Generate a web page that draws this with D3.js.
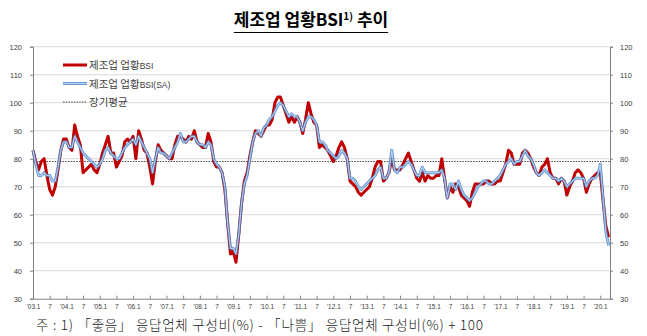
<!DOCTYPE html>
<html>
<head>
<meta charset="utf-8">
<script src="https://cdn.jsdelivr.net/npm/d3@7"></script>
<style>
  html, body { margin: 0; padding: 0; background: #fff; }
  svg { display: block; }
</style>
</head>
<body>
<svg id="chart" width="647" height="336"></svg>
<script>
// ---------------- DATA ----------------
const startYear = 2003;               // first month: 2003.1
// 제조업 업황BSI (original), monthly, 2003.1 – 2020.4
const bsi = [
  83, 79, 76, 79, 80, 74, 69, 67, 70, 76, 83, 87,   // 2003
  87, 84, 83, 92, 88, 85, 75, 76, 77, 78, 76, 75,   // 2004
  78, 82, 85, 88, 82, 82, 77, 79, 81, 86, 87, 86,   // 2005
  88, 80, 90, 87, 83, 82, 77, 71, 79, 85, 83, 82,   // 2006
  81, 80, 80, 85, 88, 88, 87, 86, 88, 87, 90, 86,   // 2007
  85, 84, 84, 89, 86, 79, 77, 77, 75, 69, 57, 46,   // 2008
  47, 43, 53, 64, 72, 75, 81, 86, 90, 89, 88, 90,   // 2009
  92, 92, 94, 100, 102, 102, 99, 96, 93, 95, 93, 95, // 2010
  93, 89, 94, 100, 96, 93, 92, 84, 85, 84, 83, 81,  // 2011
  79, 81, 84, 86, 84, 80, 72, 71, 70, 68, 67, 68,   // 2012
  69, 70, 73, 77, 79, 79, 72, 73, 75, 80, 76, 76,   // 2013
  76, 78, 80, 82, 79, 76, 73, 72, 75, 72, 74, 73,   // 2014
  73, 74, 74, 80, 73, 66, 70, 68, 71, 70, 67, 66,   // 2015
  65, 63, 68, 71, 71, 71, 71, 72, 72, 71, 71, 72,   // 2016
  72, 75, 78, 83, 82, 78, 78, 78, 82, 83, 82, 80,   // 2017
  77, 75, 74, 77, 78, 80, 75, 73, 73, 71, 73, 72,   // 2018
  67, 70, 72, 75, 76, 75, 73, 68, 71, 73, 74, 75,   // 2019
  75, 65, 56, 52                                    // 2020
];
// 제조업 업황BSI(SA), seasonally adjusted
const bsiSA = [
  83, 78, 74, 74, 75, 74, 74, 72, 72, 77, 83, 86,   // 2003
  86, 84, 84, 88, 86, 84, 82, 81, 80, 79, 78, 77,   // 2004
  78, 80, 83, 84, 82, 81, 80, 80, 82, 84, 85, 86,   // 2005
  87, 85, 88, 86, 84, 82, 80, 75, 80, 84, 82, 82,   // 2006
  81, 80, 82, 84, 86, 89, 86, 86, 87, 88, 88, 86,   // 2007
  85, 85, 84, 86, 85, 80, 78, 77, 75, 70, 57, 48,   // 2008
  48, 46, 53, 64, 71, 74, 80, 86, 89, 90, 88, 91,   // 2009
  92, 94, 95, 97, 99, 100, 99, 97, 95, 96, 95, 95,  // 2010
  93, 90, 93, 95, 95, 94, 92, 86, 86, 85, 83, 82,   // 2011
  81, 80, 81, 83, 82, 80, 73, 73, 72, 70, 69, 70,   // 2012
  71, 72, 73, 74, 76, 77, 73, 73, 75, 83, 76, 75,   // 2013
  77, 77, 78, 79, 78, 76, 74, 74, 77, 75, 75, 75,   // 2014
  75, 75, 75, 76, 73, 66, 71, 71, 69, 72, 69, 67,   // 2015
  66, 65, 66, 68, 70, 71, 72, 72, 71, 71, 72, 73,   // 2016
  74, 76, 78, 79, 80, 78, 79, 79, 81, 83, 81, 80,   // 2017
  78, 75, 74, 75, 76, 75, 74, 73, 73, 72, 73, 72,   // 2018
  70, 71, 72, 73, 73, 73, 73, 70, 72, 73, 73, 74,   // 2019
  78, 66, 54, 49                                    // 2020
];
const longTermAvg = 79;               // 장기평균
const yTicks = [30, 40, 50, 60, 70, 80, 90, 100, 110, 120];
const xTickLabels = [
  "'03.1","7","'04.1","7","'05.1","7","'06.1","7","'07.1","7","'08.1","7",
  "'09.1","7","'10.1","7","'11.1","7","'12.1","7","'13.1","7","'14.1","7",
  "'15.1","7","'16.1","7","'17.1","7","'18.1","7","'19.1","7","'20.1"
];
const legendLabels = [
  { ko: "제조업 업황", en: "BSI" },
  { ko: "제조업 업황", en: "BSI(SA)" },
  { ko: "장기평균", en: "" }
];
const titleText = { main: "제조업 업황BSI", sup: "1)", tail: " 추이" };
const noteText = "주 : 1) 「좋음」 응답업체 구성비(%) - 「나쁨」 응답업체 구성비(%) + 100";

// ---------------- LAYOUT ----------------
const svg = d3.select("#chart");
const L = 33, R = 610, T = 46.7, B = 298.7;
const KO = "'Noto Sans CJK KR', 'Noto Sans', sans-serif";
const NUM = "'Liberation Sans', 'DejaVu Sans', sans-serif";

const x = d3.scaleLinear().domain([0, 207.5]).range([L, R]);
const y = d3.scaleLinear().domain([30, 120]).range([B, T]);

const RED = "#c00000";
const BLUE_OUT = "#4a7cc0";
const BLUE_IN = "#b3d7f7";

// gridlines
svg.append("g").selectAll("line").data(yTicks.filter(v => v > 30)).join("line")
  .attr("x1", L).attr("x2", R)
  .attr("y1", d => y(d)).attr("y2", d => y(d))
  .attr("stroke", "#d9d9d9").attr("stroke-width", 1);

// y axes
const yAxisL = d3.axisLeft(y).tickValues(yTicks).tickSize(3).tickPadding(8);
const yAxisR = d3.axisRight(y).tickValues(yTicks).tickSize(3).tickPadding(7);
function styleAxis(g) {
  g.select(".domain").attr("stroke", "#808080");
  g.selectAll(".tick line").attr("stroke", "#808080");
  g.selectAll(".tick text").attr("fill", "#404040")
    .style("font-family", NUM).style("font-size", "7.5px");
}
svg.append("g").attr("transform", `translate(${L},0)`).call(yAxisL).call(styleAxis);
svg.append("g").attr("transform", `translate(${R},0)`).call(yAxisR).call(styleAxis);

// x axis
const xTickPos = xTickLabels.map((d, i) => i * 6);
const xAxis = d3.axisBottom(x).tickValues(xTickPos)
  .tickFormat((d, i) => xTickLabels[i]).tickSize(-3).tickPadding(6);
svg.append("g").attr("transform", `translate(0,${B})`).call(xAxis)
  .call(g => {
    g.select(".domain").attr("stroke", "#808080");
    g.selectAll(".tick line").attr("stroke", "#808080");
    g.selectAll(".tick text").attr("fill", "#404040")
      .style("font-family", NUM).style("font-size", "6.5px");
  });

// long-term average
svg.append("line")
  .attr("x1", L).attr("x2", R)
  .attr("y1", y(longTermAvg)).attr("y2", y(longTermAvg))
  .attr("stroke", "#333").attr("stroke-width", 0.9)
  .attr("stroke-dasharray", "1.5,1.2");

const line = d3.line().x((d, i) => x(i)).y(d => y(d));

// original series
svg.append("path").datum(bsi)
  .attr("d", line).attr("fill", "none")
  .attr("stroke", RED).attr("stroke-width", 3)
  .attr("stroke-linejoin", "round");

// SA series (light blue with darker edge)
svg.append("path").datum(bsiSA)
  .attr("d", line).attr("fill", "none")
  .attr("stroke", BLUE_OUT).attr("stroke-opacity", 0.8).attr("stroke-width", 3.0)
  .attr("stroke-linejoin", "round");
svg.append("path").datum(bsiSA)
  .attr("d", line).attr("fill", "none")
  .attr("stroke", BLUE_IN).attr("stroke-opacity", 0.9).attr("stroke-width", 1.2)
  .attr("stroke-linejoin", "round");

// legend
const lg = svg.append("g");
const legY = [65, 83.5, 102];
lg.append("line").attr("x1", 63).attr("x2", 87).attr("y1", legY[0]).attr("y2", legY[0])
  .attr("stroke", RED).attr("stroke-width", 3);
lg.append("line").attr("x1", 63).attr("x2", 87).attr("y1", legY[1]).attr("y2", legY[1])
  .attr("stroke", BLUE_OUT).attr("stroke-opacity", 0.85).attr("stroke-width", 3);
lg.append("line").attr("x1", 63).attr("x2", 87).attr("y1", legY[1]).attr("y2", legY[1])
  .attr("stroke", BLUE_IN).attr("stroke-width", 1.2);
lg.append("line").attr("x1", 63).attr("x2", 87).attr("y1", legY[2]).attr("y2", legY[2])
  .attr("stroke", "#333").attr("stroke-width", 0.9).attr("stroke-dasharray", "1.5,1.2");
legendLabels.forEach((d, i) => {
  const t = lg.append("text").attr("x", 89).attr("y", legY[i] + 4)
    .attr("fill", "#404040").style("font-family", KO).style("font-size", "10.5px");
  t.append("tspan").text(d.ko);
  if (d.en) t.append("tspan").style("font-family", NUM).style("font-size", "8.5px").text(d.en);
});

// title
const title = svg.append("text").attr("x", 311).attr("y", 26)
  .attr("text-anchor", "middle").attr("fill", "#000")
  .style("font-family", KO).style("font-weight", "bold").style("font-size", "17px");
title.append("tspan").text(titleText.main);
title.append("tspan").attr("dy", -6).style("font-size", "10px").text(titleText.sup);
title.append("tspan").attr("dy", 6).text(titleText.tail);
const tb = title.node().getBBox();
svg.append("line").attr("x1", tb.x).attr("x2", tb.x + tb.width)
  .attr("y1", 32.5).attr("y2", 32.5).attr("stroke", "#000").attr("stroke-width", 1.2);

// footnote
svg.append("text").attr("x", 36).attr("y", 330)
  .attr("fill", "#222").style("font-family", KO).style("font-weight", 300)
  .style("font-size", "13.5px")
  .attr("textLength", 447).attr("lengthAdjust", "spacing")
  .text(noteText);
</script>
</body>
</html>
